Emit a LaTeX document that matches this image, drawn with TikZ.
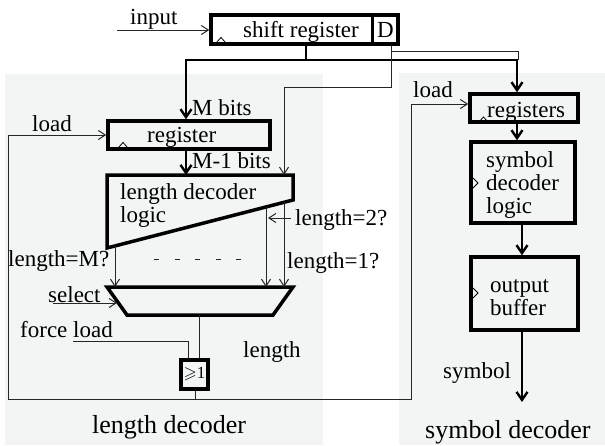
\documentclass[tikz,border=0pt]{standalone}
\usepackage{amssymb}
\usepackage{fontspec}
\setmainfont{Liberation Serif}
\usetikzlibrary{arrows.meta}
\definecolor{panel}{RGB}{243,245,245}
\begin{document}
\begin{tikzpicture}[x=1pt,y=-1pt,
  every node/.style={inner sep=0pt},
  box/.style={draw, line width=3.5pt, inner sep=0pt},
  txt/.style={anchor=base west, font=\fontsize{23}{26}\selectfont},
  big/.style={anchor=base west, font=\fontsize{26}{30}\selectfont},
  thinln/.style={line width=1pt, draw=black!85},
  busln/.style={line width=2.4pt},
  arr/.style={-{Straight Barb[length=7pt,width=9pt,line width=1pt]}},
  barr/.style={-{Straight Barb[length=8pt,width=11pt]}},
  clk/.style={line width=0.8pt, line join=miter}]
\useasboundingbox (0,0) rectangle (605,445);
% panels
\fill[panel] (5,74) rectangle (323,445);
\fill[panel] (399,73) rectangle (605,445);
% boxes
\node[box, minimum width=187pt, minimum height=29pt] (sr) at (304.5,29.5) {};
\draw[line width=3pt] (372,15) -- (372,44);
\node[box, minimum width=162pt, minimum height=28pt] (reg) at (189,135) {};
\node[box, minimum width=108pt, minimum height=28pt] (rgs) at (524,108) {};
\node[box, minimum width=104pt, minimum height=81pt] (sdl) at (523,182.5) {};
\node[box, minimum width=107pt, minimum height=73pt] (ob) at (524.5,293.5) {};
\node[box, minimum width=27pt, minimum height=29pt, font=\fontsize{17}{20}\selectfont] (ge) at (194.5,374.5) {$\geqslant$1};
% decoder logic and mux shapes
\coordinate (d1) at (107,175); \coordinate (d2) at (293,175);
\coordinate (d3) at (293,200); \coordinate (d4) at (107,248);
\draw[line width=3.5pt, line join=miter] (d1) -- (d2) -- (d3) -- (d4) -- cycle;
\coordinate (m1) at (107,287); \coordinate (m2) at (293,287);
\coordinate (m3) at (273,315); \coordinate (m4) at (127,315);
\draw[line width=3.5pt, line join=miter] (m1) -- (m2) -- (m3) -- (m4) -- cycle;
% clock marks
\draw[clk] (216,43) -- (221,37.5) -- (226,43);
\draw[clk] (118,148) -- (123,142.5) -- (128,148);
\draw[clk] (479,122) -- (483.5,117) -- (488,122);
\draw[clk] (473,178) -- (478,183) -- (473,188);
\draw[clk] (473,288) -- (478,293) -- (473,298);
% texts
\node[txt] (tin) at (130,24) {input};
\node[txt] (tsr) at (243,37) {shift register};
\node[txt] (tD) at (377,37) {D};
\node[txt] (tmb) at (192,115) {M bits};
\node[txt] (tload1) at (32,131) {load};
\node[txt] (treg) at (147,142) {register};
\node[txt] (tm1) at (192,168) {M-1 bits};
\node[txt] (tldl1) at (120,199) {length decoder};
\node[txt] (tldl2) at (120,222) {logic};
\node[txt] (tl2) at (295,225) {length=2?};
\node[txt] (tlM) at (8,266) {length=M?};
\node[txt] (tl1) at (287,268) {length=1?};
\node[txt] (tsel) at (48,302) {select};
\node[txt] (tfl) at (20,337) {force load};
\node[txt] (tlen) at (243,357) {length};
\node[big] (tld) at (92,433) {length decoder};
\node[txt] (tload2) at (413,97) {load};
\node[txt] (trgs) at (487,117) {registers};
\node[txt] (ts1) at (486,167) {symbol};
\node[txt] (ts2) at (486,190) {decoder};
\node[txt] (ts3) at (486,213) {logic};
\node[txt] (to1) at (490,292) {output};
\node[txt] (to2) at (490,315) {buffer};
\node[txt] (tsym) at (443,378) {symbol};
\node[big] (tsd) at (425,438) {symbol decoder};
% coordinates
\coordinate (cin) at (117,30);
\coordinate (b0) at (306,60);
\coordinate (b1) at (186,60);
\coordinate (b2) at (517,60);
\coordinate (dx) at (391,0);
\coordinate (dc1) at (391,87);
\coordinate (dc2) at (284,87);
\coordinate (dtop) at (284,175);
\coordinate (dd1) at (391,51);
\coordinate (dd2) at (518,51);
\coordinate (dd3) at (518,60);
\coordinate (rtop) at (186,175);
\coordinate (oM) at (115,246);
\coordinate (o2) at (266,207);
\coordinate (o1) at (284,202.3);
\coordinate (ds1) at (154,259);
\coordinate (ds2) at (252,259);
\coordinate (a2s) at (291,218);
\coordinate (a2e) at (268,218);
\coordinate (sels) at (53,303);
\coordinate (sele) at (117,303);
\coordinate (fls) at (73,341);
\coordinate (flc) at (188,341);
\coordinate (mo) at (199,315);
\coordinate (gx) at (195,0);
\coordinate (lj) at (195,399);
\coordinate (lp1) at (8,399);
\coordinate (lp2) at (8,135);
\coordinate (lp3) at (411,399);
\coordinate (lp4) at (411,104);
\coordinate (ry) at (0,104);
\coordinate (x517) at (517,0);
\coordinate (x522) at (522,0);
\coordinate (send) at (522,402);
% connectors
\draw[thinln,arr] (cin) -- (sr.west |- cin);
\draw[busln] (sr.south -| b0) -- (b0);
\draw[busln,barr] (b0) -- (b1) -- (reg.north -| b1);
\draw[busln,barr] (b0) -- (b2) -- (rgs.north -| b2);
\draw[thinln,arr] (sr.south -| dx) -- (dc1) -- (dc2) -- (dtop);
\draw[thinln] (dd1) -- (dd2) -- (dd3);
\draw[busln,barr] (reg.south -| b1) -- (rtop);
\draw[thinln,arr] (oM) -- (oM |- m1);
\draw[thinln,arr] (o2) -- (o2 |- m1);
\draw[thinln,arr] (o1) -- (o1 |- m1);
\draw[thinln, dash pattern=on 5pt off 15.5pt] (ds1) -- (ds2);
\draw[thinln,arr] (a2s) -- (a2e);
\draw[thinln,arr] (sels) -- (sele);
\draw[thinln] (fls) -- (flc) -- (ge.north -| flc);
\draw[thinln] (mo) -- (ge.north -| mo);
\draw[thinln] (ge.south -| gx) -- (lj);
\draw[thinln,arr] (lp1) -- (lp2) -- (reg.west |- lp2);
\draw[thinln,arr] (lp1) -- (lp3) -- (lp4) -- (rgs.west |- lp4);
\draw[busln,barr] (rgs.south -| x517) -- (sdl.north -| x517);
\draw[busln,barr] (sdl.south -| x522) -- (ob.north -| x522);
\draw[busln,barr] (ob.south -| x522) -- (send);
\end{tikzpicture}
\end{document}
